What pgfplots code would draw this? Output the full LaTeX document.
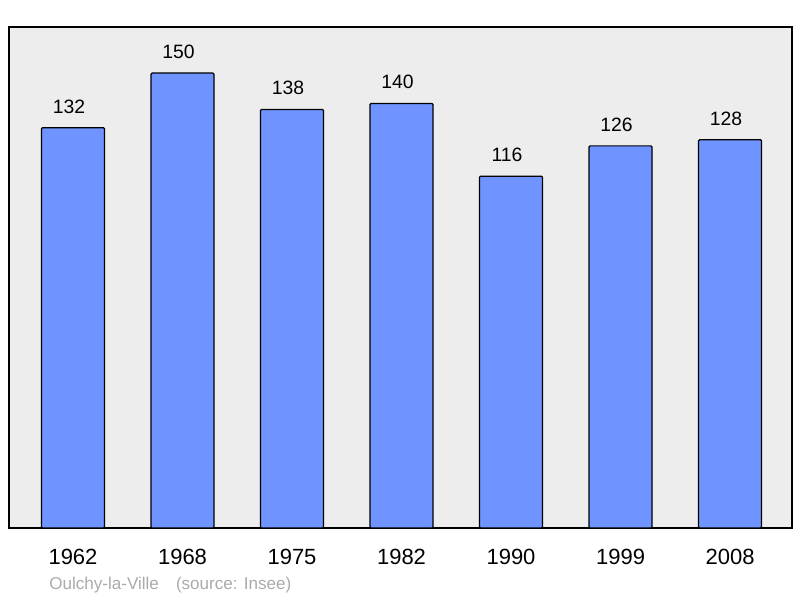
\documentclass[border=0pt]{standalone}
\usepackage{fontspec}
\setmainfont{Liberation Sans}
\usepackage{pgfplots}
\pgfplotsset{compat=1.18}
\definecolor{barblue}{HTML}{7094FF}
\definecolor{bggray}{HTML}{EDEDED}
\definecolor{capgray}{HTML}{AAAAAA}
\begin{document}
\begin{tikzpicture}
\begin{axis}[
  name=ax,
  scale only axis,
  width=587.25pt, height=375.75pt,
  xmin=-0.5845, xmax=6.566,
  ymin=0, ymax=165.2,
  axis background/.style={fill=bggray},
  axis line style={line width=1.5pt, black},
  xtick={0,1,2,3,4,5,6},
  xticklabels={1962,1968,1975,1982,1990,1999,2008},
  ytick=\empty,
  major tick length=0pt,
  xticklabel style={font=\fontsize{16.5}{18}\selectfont, anchor=base, yshift=-27.5pt},
  ybar, bar width=47.25pt, bar shift=0pt,
  nodes near coords,
  every node near coord/.append style={font=\fontsize{14.5}{16}\selectfont, anchor=base, xshift=-3pt, yshift=11pt, text=black},
  /pgf/number format/assume math mode=true,
]
\addplot[fill=barblue, draw=black, line width=0.9pt, rounded corners=0.8pt]
  coordinates {(0,132) (1,150) (2,138) (3,140) (4,116) (5,126) (6,128)};
\end{axis}
\node[anchor=base west, text=capgray, font=\fontsize{12.8}{14}\selectfont, inner sep=0pt]
  at ([xshift=30pt, yshift=-46.5pt]ax.south west) {Oulchy-la-Ville\hspace{1em}(source: Insee)};
\pgfresetboundingbox
\path ([xshift=-6.75pt, yshift=-52.5pt]ax.south west) rectangle ++(600pt,448.5pt);
\end{tikzpicture}
\end{document}
